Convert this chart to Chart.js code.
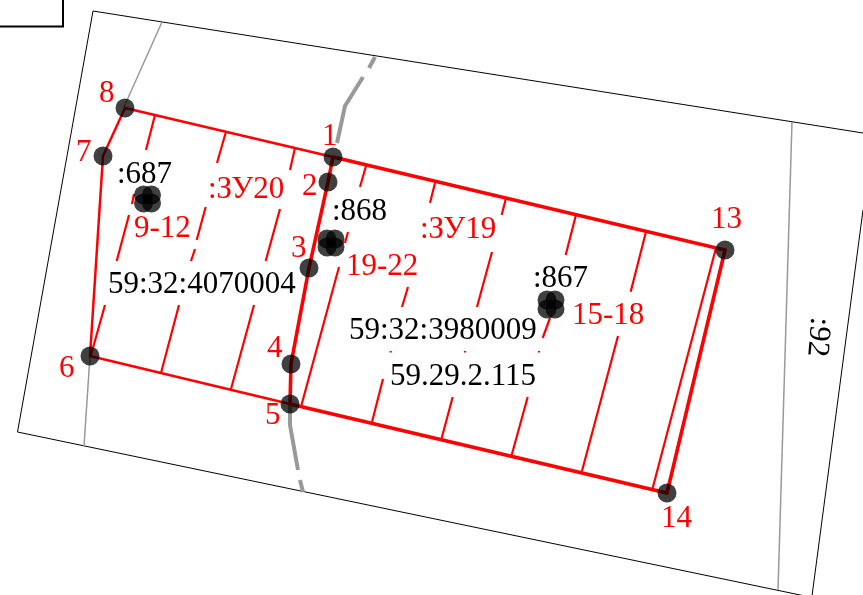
<!DOCTYPE html>
<html>
<head>
<meta charset="utf-8">
<title>Схема</title>
<script src="https://cdn.jsdelivr.net/npm/chart.js@4"></script>
<style>
  html, body { margin: 0; padding: 0; background: #fff; }
  canvas { display: block; }
</style>
</head>
<body>
<canvas id="map" width="863" height="595"></canvas>
<script>
// map coordinates, y runs downwards
const frameLines = [
  [[93, 11], [863, 133]],
  [[93, 11], [17.5, 432]],
  [[17.5, 432], [805, 596]],
  [[863, 210], [812, 596]]
];
const cornerBox = [[0, 26.5], [63, 26.5], [63, 0]];

const contextLines = [
  [[162, 22], [124, 107]],
  [[90, 356], [84, 446]],
  [[792, 122], [778, 590]]
];
const roadLines = [
  [[375, 57], [369, 68]],
  [[363, 77], [345, 106], [337, 143]],
  [[290, 404], [290, 425], [298, 470]],
  [[300, 480], [303, 492]]
];

const parcelLeft = [[333, 157], [125, 108], [103, 156], [90, 356], [290, 404]];
const parcelRight = [[333, 157], [725, 250], [667, 493], [290, 404]];
const sharedBorder = [[333, 157], [328, 182], [309, 268], [291, 364], [290, 404]];

const hatchLines = [
  [[155, 115], [146, 150]],
  [[225.7, 132.7], [217, 163]],
  [[295, 148], [290, 170]],
  [[366, 166], [360, 187]],
  [[435, 183], [430, 203]],
  [[506, 198], [501.7, 215]],
  [[575.7, 216], [565.7, 255]],
  [[646, 231.7], [630.7, 291.7]],
  [[716, 248], [652.7, 488]],
  [[134, 194], [132, 204]],
  [[129, 215], [116.7, 261]],
  [[205.7, 207], [196.7, 240]],
  [[195, 249], [191, 261]],
  [[280, 209], [265.7, 261]],
  [[348, 232], [345, 243]],
  [[339, 267], [301.5, 405]],
  [[408, 287], [402, 307]],
  [[492, 252], [477, 307]],
  [[550, 318], [542.7, 338]],
  [[105, 305], [91, 355]],
  [[179, 305], [161, 373]],
  [[254, 305], [231, 389]],
  [[383, 379], [372, 422]],
  [[452.7, 397], [441.7, 438]],
  [[527.7, 397], [511.7, 455]],
  [[618, 336], [582, 471]],
  [[390.7, 351], [390.7, 352.5]],
  [[465, 351], [465, 352.5]],
  [[539, 351], [539, 352.5]]
];

const turnPoints = [
  [333, 157], [328, 182], [309, 268], [291, 364], [290, 404],
  [90, 356], [103, 156], [125, 108], [725, 250], [667, 493]
];
const clusterPoints = [
  [143.5, 195], [151.5, 195], [143.5, 203], [151.5, 203],
  [327, 239], [335, 239], [327, 247], [335, 247],
  [547, 300], [555, 300], [547, 309], [555, 309]
];

const redLabels = [
  ['1', 322, 145], ['2', 302, 195], ['3', 291, 257], ['4', 267, 357],
  ['5', 265, 424], ['6', 59, 377], ['7', 76, 161], ['8', 99, 102],
  ['13', 711, 228], ['14', 661, 527], ['9-12', 134, 237], ['19-22', 346, 275],
  ['15-18', 572, 324], [':ЗУ20', 208, 198], [':ЗУ19', 420, 238]
];
const blackLabels = [
  [':687', 117, 183], [':868', 332, 220], [':867', 533, 287],
  ['59:32:4070004', 108, 293], ['59:32:3980009', 349, 339], ['59.29.2.115', 390, 385]
];
const rotatedLabel = [':92', 818, 337];

function toPoints(list) {
  return list.map(p => ({ x: p[0], y: p[1] }));
}

function lineSet(list, color, width, order) {
  return {
    data: toPoints(list),
    showLine: true,
    borderColor: color,
    borderWidth: width,
    borderJoinStyle: 'miter',
    pointRadius: 0,
    order: order
  };
}

const datasets = [];
frameLines.forEach(l => datasets.push(lineSet(l, '#000', 1, 10)));
datasets.push(lineSet(cornerBox, '#000', 2, 10));
contextLines.forEach(l => datasets.push(lineSet(l, '#999', 1.5, 9)));
roadLines.forEach(l => datasets.push(lineSet(l, '#999', 4, 9)));
hatchLines.forEach(l => datasets.push(lineSet(l, '#f00', 2.2, 8)));
datasets.push(lineSet(parcelLeft, '#f00', 2.5, 7));
datasets.push(lineSet(parcelRight, '#f00', 3.6, 6));
datasets.push(lineSet(sharedBorder, '#f00', 3.6, 6));
datasets.push({
  data: toPoints(turnPoints.concat(clusterPoints)),
  showLine: false,
  pointRadius: 9.5,
  pointBorderWidth: 0,
  pointBackgroundColor: 'rgba(0, 0, 0, 0.75)',
  order: 1
});

// labels go through the same scales as the lines
const mapLabels = {
  id: 'mapLabels',
  afterDatasetsDraw(chart) {
    const ctx = chart.ctx;
    const sx = chart.scales.x;
    const sy = chart.scales.y;
    ctx.save();
    ctx.font = '31px "Liberation Serif"';
    ctx.textAlign = 'left';
    ctx.textBaseline = 'alphabetic';
    ctx.fillStyle = '#f00';
    redLabels.forEach(t => ctx.fillText(t[0], sx.getPixelForValue(t[1]), sy.getPixelForValue(t[2])));
    ctx.fillStyle = '#000';
    blackLabels.forEach(t => ctx.fillText(t[0], sx.getPixelForValue(t[1]), sy.getPixelForValue(t[2])));
    ctx.translate(sx.getPixelForValue(rotatedLabel[1]), sy.getPixelForValue(rotatedLabel[2]));
    ctx.rotate(95 * Math.PI / 180);
    ctx.textAlign = 'center';
    ctx.textBaseline = 'middle';
    ctx.fillText(rotatedLabel[0], 0, 0);
    ctx.restore();
  }
};

new Chart(document.getElementById('map'), {
  type: 'scatter',
  data: { datasets: datasets },
  plugins: [mapLabels],
  options: {
    responsive: false,
    animation: false,
    layout: { padding: 0, autoPadding: false },
    plugins: { legend: { display: false }, tooltip: { enabled: false } },
    scales: {
      x: { type: 'linear', min: 0, max: 863, display: false },
      y: { type: 'linear', min: 0, max: 595, reverse: true, display: false }
    }
  }
});
</script>
</body>
</html>
